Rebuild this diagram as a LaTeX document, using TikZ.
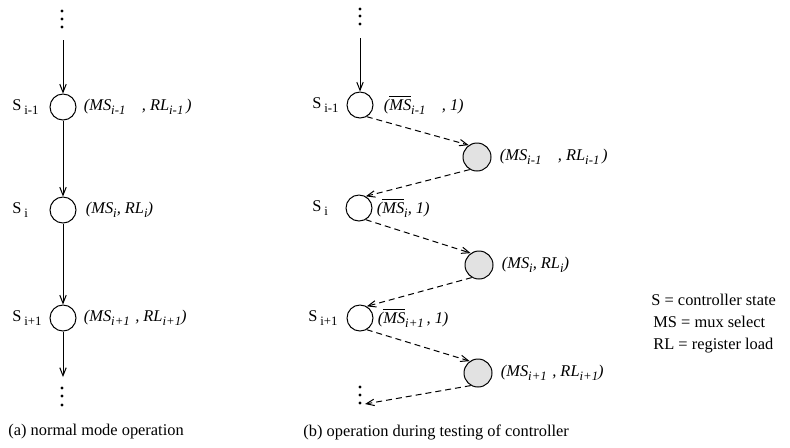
\documentclass[tikz,border=0pt]{standalone}
\usepackage{fontspec}
\setmainfont{Liberation Serif}
\usetikzlibrary{arrows.meta,positioning}
\definecolor{stategray}{HTML}{E2E2E2}
\newcommand{\lowidx}[1]{\raisebox{-0.55ex}{\fontsize{6.4}{7}\selectfont #1}}

\begin{document}
\begin{tikzpicture}[x=0.5pt,y=-0.5pt,font=\fontsize{8.2}{10}\selectfont]
    \tikzstyle{state}=[circle,draw,line width=0.5pt,minimum size=13pt,inner sep=0pt]
    \tikzstyle{teststate}=[state,fill=stategray,minimum size=14pt]
    \tikzstyle{sname}=[inner sep=0pt,anchor=west]
    \tikzstyle{pair}=[inner sep=0pt,font=\fontsize{8.2}{10}\selectfont\itshape]
    \tikzstyle{flow}=[-{Straight Barb[length=4pt,width=3.2pt]},line width=0.5pt]
    \tikzstyle{testflow}=[flow,dash pattern=on 3pt off 2pt]
    \useasboundingbox (0,0) rectangle (790,447);

    % (a) normal mode
    \node[state] (a1) at (63,107) {};
    \node[state] (a2) at (63,210) {};
    \node[state] (a3) at (63,318) {};
    \coordinate (atop) at (63,40);
    \coordinate (abot) at (63,377);
    \foreach \y in {11,19,27} \fill (62,\y) circle (0.85pt);
    \foreach \y in {388,396,405} \fill (62,\y) circle (0.85pt);
    \draw[flow] (atop) -- (a1);
    \draw[flow] (a1) -- (a2);
    \draw[flow] (a2) -- (a3);
    \draw[flow] (a3) -- (abot);
    \node[sname] (sa1) at (12,107) {S\,\lowidx{i-1}};
    \node[sname] (sa2) at (12,210) {S\,\lowidx{i}};
    \node[sname] (sa3) at (12,318) {S\,\lowidx{i+1}};
    \node[pair,right=3.5pt of a1] (pa1) {(MS\lowidx{i-1}\quad, RL\lowidx{i-1}\,)};
    \node[pair,right=4.5pt of a2] (pa2) {(MS\lowidx{i}, RL\lowidx{i})};
    \node[pair,right=3.5pt of a3] (pa3) {(MS\lowidx{i+1}\,\,, RL\lowidx{i+1})};
    \node[sname] (capa) at (8,432) {(a) normal mode operation};

    % (b) testing of controller
    \node[state] (b1) at (360,105) {};
    \node[state] (b2) at (359,208) {};
    \node[state] (b3) at (360,318) {};
    \node[teststate] (g1) at (477,157) {};
    \node[teststate] (g2) at (479,265) {};
    \node[teststate] (g3) at (478,373) {};
    \coordinate (btop) at (360,38);
    \coordinate (bbot) at (365,404);
    \foreach \y in {9,16,24} \fill (360,\y) circle (0.85pt);
    \foreach \y in {387,395,403} \fill (360,\y) circle (0.85pt);
    \draw[flow] (btop) -- (b1);
    \draw[testflow] (b1.300) -- (g1.125);
    \draw[testflow] (g1.240) -- (b2.60);
    \draw[testflow] (b2.300) -- (g2.125);
    \draw[testflow] (g2.240) -- (b3.60);
    \draw[testflow] (b3.300) -- (g3.125);
    \draw[testflow] (g3.240) -- (bbot);
    \node[sname] (sb1) at (312,105) {S\,\lowidx{i-1}};
    \node[sname] (sb2) at (312,208) {S\,\lowidx{i}};
    \node[sname] (sb3) at (308,318) {S\,\lowidx{i+1}};
    \node[pair,right=5pt of b1] (pb1) {($\overline{\mbox{\itshape MS}}$\lowidx{i-1}\quad, 1)};
    \node[pair,right=2pt of b2] (pb2) {($\overline{\mbox{\itshape MS}}$\lowidx{i}, 1)};
    \node[pair,right=2pt of b3] (pb3) {($\overline{\mbox{\itshape MS}}$\lowidx{i+1}\,, 1)};
    \node[pair,right=4pt of g1] (pg1) {(MS\lowidx{i-1}\quad, RL\lowidx{i-1}\,)};
    \node[pair,right=4pt of g2] (pg2) {(MS\lowidx{i}, RL\lowidx{i})};
    \node[pair,right=4pt of g3] (pg3) {(MS\lowidx{i+1}\,\,, RL\lowidx{i+1})};
    \node[sname] (capb) at (303,432) {(b) operation during testing of controller};

    % legend
    \node[sname] (key1) at (651,300) {S = controller state};
    \node[sname] (key2) at (653,322) {MS = mux select};
    \node[sname] (key3) at (653,346) {RL = register load};
\end{tikzpicture}
\end{document}
